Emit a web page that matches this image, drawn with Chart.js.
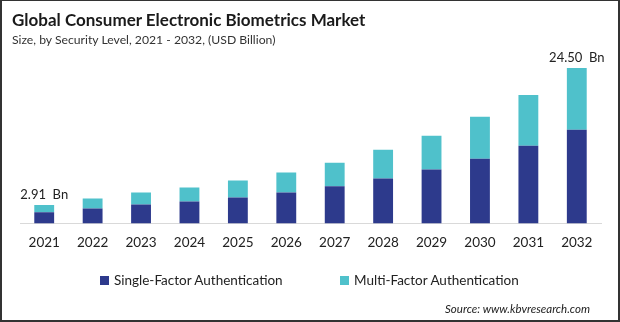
<!DOCTYPE html>
<html>
<head>
<meta charset="utf-8">
<script src="https://cdn.jsdelivr.net/npm/chart.js@4"></script>
<style>
    body { margin: 0; background: #fff; }
    #wrap { position: relative; width: 620px; height: 322px; overflow: hidden; font-family: Lato, "Open Sans", sans-serif; color: #222; }
    #chart { position: absolute; left: 0; top: 0; }
    #frame { position: absolute; left: 0; top: 0; width: 616px; height: 319px; border: 2px solid #333; border-top-width: 1px; pointer-events: none; }
    .title { position: absolute; left: 12px; top: 9px; font-size: 17px; font-weight: bold; color: #1a1a1a; white-space: nowrap; }
    .subtitle { position: absolute; left: 12px; top: 32px; font-size: 12.2px; color: #333; white-space: nowrap; }
    .legend { position: absolute; top: 272px; font-size: 13.5px; color: #222; white-space: nowrap; }
    .legend i { display: inline-block; width: 9px; height: 9px; margin-right: 5px; vertical-align: 0px; }
    .source { position: absolute; right: 30px; top: 302px; font-size: 11.5px; font-style: italic; color: #222; }
</style>
</head>
<body>
<div id="wrap">
    <canvas id="chart" width="620" height="322"></canvas>
    <div class="title">Global Consumer Electronic Biometrics Market</div>
    <div class="subtitle">Size, by Security Level, 2021 - 2032, (USD Billion)</div>
    <div class="legend" id="leg1" style="left:100px"><i style="background:#2d3a8c"></i>Single-Factor Authentication</div>
    <div class="legend" id="leg2" style="left:340px"><i style="background:#4fc1cb"></i>Multi-Factor Authentication</div>
    <div class="source">Source: www.kbvresearch.com</div>
    <div id="frame"></div>
</div>
<script>
let years = ["2021", "2022", "2023", "2024", "2025", "2026", "2027", "2028", "2029", "2030", "2031", "2032"];
let singleFactor = [1.77, 2.36, 2.98, 3.46, 4.08, 4.87, 5.86, 7.07, 8.48, 10.21, 12.25, 14.76];
let multiFactor = [1.14, 1.57, 1.89, 2.20, 2.67, 3.14, 3.72, 4.55, 5.34, 6.60, 8.01, 9.74];
let labelledYears = ["2021", "2032"];

// writes "x.xx Bn" above the first and last stacks
const totalLabels = {
    id: "totalLabels",
    afterDatasetsDraw(chart) {
        let ctx = chart.ctx;
        let xScale = chart.scales.x;
        let yScale = chart.scales.y;
        ctx.save();
        ctx.font = "13px Lato, 'Open Sans', sans-serif";
        ctx.fillStyle = "#222";
        ctx.textAlign = "center";
        ctx.textBaseline = "middle";
        labelledYears.forEach(function (year) {
            let i = years.indexOf(year);
            let total = singleFactor[i] + multiFactor[i];
            let x = xScale.getPixelForValue(i);
            let y = yScale.getPixelForValue(total) - 10.5;
            ctx.fillText(total.toFixed(2) + "  Bn", x, y);
        });
        ctx.restore();
    }
};

let ctx = document.getElementById("chart").getContext("2d");

new Chart(ctx, {
    type: "bar",
    data: {
        labels: years,
        datasets: [{
            label: "Single-Factor Authentication",
            data: singleFactor,
            backgroundColor: "#2d3a8c",
            barPercentage: 0.41,
            categoryPercentage: 1
        }, {
            label: "Multi-Factor Authentication",
            data: multiFactor,
            backgroundColor: "#4fc1cb",
            barPercentage: 0.41,
            categoryPercentage: 1
        }]
    },
    options: {
        responsive: false,
        animation: false,
        layout: {
            padding: { left: 20, right: 19, top: 58.5, bottom: 60.4 }
        },
        plugins: {
            legend: { display: false },
            tooltip: { enabled: false }
        },
        scales: {
            x: {
                stacked: true,
                grid: { display: false, drawTicks: false },
                border: { display: true, color: "#d9d9d9", width: 1 },
                ticks: {
                    padding: 11,
                    color: "#222",
                    font: { family: "Lato, 'Open Sans', sans-serif", size: 13.5 }
                }
            },
            y: {
                stacked: true,
                display: false,
                min: 0,
                max: 26
            }
        }
    },
    plugins: [totalLabels]
});
</script>
</body>
</html>
